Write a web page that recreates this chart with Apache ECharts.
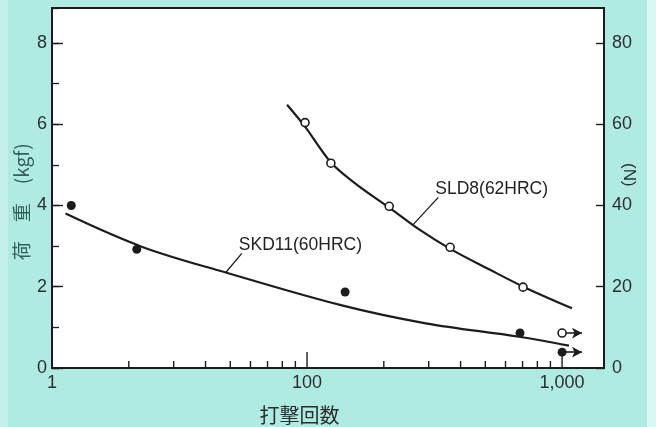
<!DOCTYPE html>
<html>
<head>
<meta charset="utf-8">
<script src="https://cdn.jsdelivr.net/npm/echarts@6/dist/echarts.min.js"></script>
<style>
  html, body { margin: 0; padding: 0; background: #b0ebe2; }
  #chart { width: 656px; height: 427px; }
</style>
</head>
<body>
<div id="chart"></div>
<script>
// Impact-count endurance of two die steels: load (kgf / N) versus number of blows.

// Fitted curves (number of blows, load in kgf)
const skd11Curve = [[11.3, 3.80], [22.6, 2.98], [48.0, 2.35], [137, 1.54], [292, 1.10], [678, 0.77], [1064, 0.55]];
const sld8Curve = [[83.5, 6.48], [98.2, 5.94], [124, 5.06], [160, 4.47], [212, 3.93], [275, 3.41], [367, 2.92], [517, 2.43], [710, 1.99], [1094, 1.47]];

// Measured results
const skd11Points = [[11.9, 4.00], [21.5, 2.92], [141, 1.87], [684, 0.86]];
const sld8Points = [[98.2, 6.04], [124, 5.04], [210, 3.98], [364, 2.97], [703, 1.99]];

// Specimens that survived 1,000 blows (drawn with a run-out arrow)
const skd11Runout = [1000, 0.39];
const sld8Runout = [1000, 0.86];
const runoutArrowTo = 1197;

// Bottom axis: labelled decades and tick marks
const xLabelValues = [10, 100, 1000];
const xLabelTexts = ['1', '100', '1,000'];
const xMajorTicks = [100, 1000];
const xMinorTicks = [20, 30, 40, 50, 60, 70, 80, 90, 200, 300, 400, 500, 600, 700, 800, 900];

// Curve captions: [x on curve, y on curve, x of leader end, y of leader end]
const captionTexts = ['SLD8(62HRC)', 'SKD11(60HRC)'];
const captionLeaders = [[259, 3.51, 327, 4.20], [48.0, 2.35, 55.5, 2.82]];

const LATIN = "'Liberation Sans', Arial, sans-serif";
const CJK = "'Noto Sans CJK JP', 'Noto Sans CJK SC', sans-serif";
const INK = '#1c1c1c';
const LABEL = '#2b302f';

const chart = echarts.init(document.getElementById('chart'), null, { renderer: 'canvas' });

const tickData = xMinorTicks.map(v => [v, 0]).concat(xMajorTicks.map(v => [v, 1]));

const option = {
  backgroundColor: '#b0ebe2',
  animation: false,
  graphic: [
    { type: 'rect', z: -10, shape: { x: 0, y: 0, width: 8, height: 427 }, style: { fill: '#c3f1ea' } },
    { type: 'rect', z: -10, shape: { x: 647, y: 0, width: 9, height: 427 }, style: { fill: '#d9f7f3' } }
  ],
  grid: {
    left: 52, right: 52, top: 8, bottom: 59,
    show: true,
    backgroundColor: '#ffffff',
    borderColor: INK,
    borderWidth: 2,
    outerBoundsMode: 'none'
  },
  xAxis: {
    type: 'log',
    logBase: 10,
    min: 10,
    max: 1460,
    axisLine: { show: false },
    axisTick: { show: false },
    splitLine: { show: false },
    axisLabel: {
      margin: 6,
      color: LABEL,
      fontFamily: LATIN,
      fontSize: 18,
      formatter: function (v) {
        const i = xLabelValues.indexOf(Math.round(v));
        return i >= 0 ? xLabelTexts[i] : '';
      }
    },
    name: '打撃回数',
    nameLocation: 'middle',
    nameGap: 37,
    nameMoveOverlap: false,
    nameTextStyle: { color: LABEL, fontFamily: CJK, fontSize: 20, padding: [0, 57, 0, 0] }
  },
  yAxis: [
    {
      type: 'value', position: 'left', min: 0, max: 8.86, interval: 2,
      axisLine: { show: false },
      axisTick: { show: true, inside: true, length: 11, lineStyle: { color: INK, width: 1.4 } },
      splitLine: { show: false },
      axisLabel: { margin: 5, color: LABEL, fontFamily: LATIN, fontSize: 18, showMaxLabel: false },
      name: '荷　重　(kgf)　  ',
      nameLocation: 'middle',
      nameGap: 21,
      nameMoveOverlap: false,
      nameTextStyle: { color: '#34605a', fontFamily: CJK, fontSize: 19 }
    },
    {
      type: 'value', position: 'left', min: 0, max: 8.86, interval: 1,
      axisLine: { show: false },
      axisTick: { show: true, inside: true, length: 7, lineStyle: { color: INK, width: 1.3 } },
      splitLine: { show: false },
      axisLabel: { show: false }
    },
    {
      type: 'value', position: 'right', min: 0, max: 88.6, interval: 20,
      axisLine: { show: false },
      axisTick: { show: true, inside: true, length: 8, lineStyle: { color: INK, width: 1.4 } },
      splitLine: { show: false },
      axisLabel: { margin: 8, color: LABEL, fontFamily: LATIN, fontSize: 18, showMaxLabel: false },
      name: '(N)　  ',
      nameLocation: 'middle',
      nameGap: 16,
      nameRotate: -90,
      nameMoveOverlap: false,
      nameTextStyle: { color: LABEL, fontFamily: LATIN, fontSize: 17 }
    }
  ],
  series: [
    {
      name: 'SKD11 curve', type: 'line', data: skd11Curve, smooth: 0.35,
      showSymbol: false, symbol: 'none',
      lineStyle: { color: INK, width: 2.2 }, z: 3
    },
    {
      name: 'SLD8 curve', type: 'line', data: sld8Curve, smooth: 0.3,
      showSymbol: false, symbol: 'none',
      lineStyle: { color: INK, width: 2.2 }, z: 3
    },
    {
      name: 'SKD11(60HRC)', type: 'scatter', data: skd11Points.concat([skd11Runout]),
      symbol: 'circle', symbolSize: 9,
      itemStyle: { color: INK, borderWidth: 0, opacity: 1 }, z: 5,
      markLine: {
        silent: true, symbol: ['none', 'arrow'], symbolSize: [8, 10],
        label: { show: false },
        lineStyle: { color: INK, width: 1.6, type: 'solid' },
        data: [[{ coord: skd11Runout }, { coord: [runoutArrowTo, skd11Runout[1]] }]]
      }
    },
    {
      name: 'SLD8(62HRC)', type: 'scatter', data: sld8Points.concat([sld8Runout]),
      symbol: 'circle', symbolSize: 8,
      itemStyle: { color: '#ffffff', borderColor: INK, borderWidth: 1.6, opacity: 1 }, z: 5,
      markLine: {
        silent: true, symbol: ['none', 'arrow'], symbolSize: [8, 10],
        label: { show: false },
        lineStyle: { color: INK, width: 1.6, type: 'solid' },
        data: [[{ coord: [sld8Runout[0] * 1.03, sld8Runout[1]] }, { coord: [runoutArrowTo, sld8Runout[1]] }]]
      }
    },
    {
      // tick marks along the logarithmic blow-count axis
      name: 'x ticks', type: 'custom', data: tickData, silent: true, z: 4,
      clip: false,
      renderItem: function (params, api) {
        const p = api.coord([api.value(0), 0]);
        const len = api.value(1) ? 16 : 7;
        return {
          type: 'line',
          shape: { x1: p[0], y1: p[1], x2: p[0], y2: p[1] - len },
          style: { stroke: INK, lineWidth: 1.4 }
        };
      }
    },
    {
      // curve captions with their leader lines
      name: 'captions', type: 'custom', data: captionLeaders, silent: true, z: 6,
      clip: false,
      renderItem: function (params, api) {
        const a = api.coord([api.value(0), api.value(1)]);
        const b = api.coord([api.value(2), api.value(3)]);
        return {
          type: 'group',
          children: [
            { type: 'line', shape: { x1: a[0], y1: a[1], x2: b[0], y2: b[1] },
              style: { stroke: INK, lineWidth: 1.3 } },
            { type: 'text', x: b[0] - 3, y: b[1] + 1,
              style: { text: captionTexts[params.dataIndex], fill: '#222', font: '17.5px ' + LATIN,
                       align: 'left', verticalAlign: 'bottom' } }
          ]
        };
      }
    }
  ]
};

chart.setOption(option);
</script>
</body>
</html>
